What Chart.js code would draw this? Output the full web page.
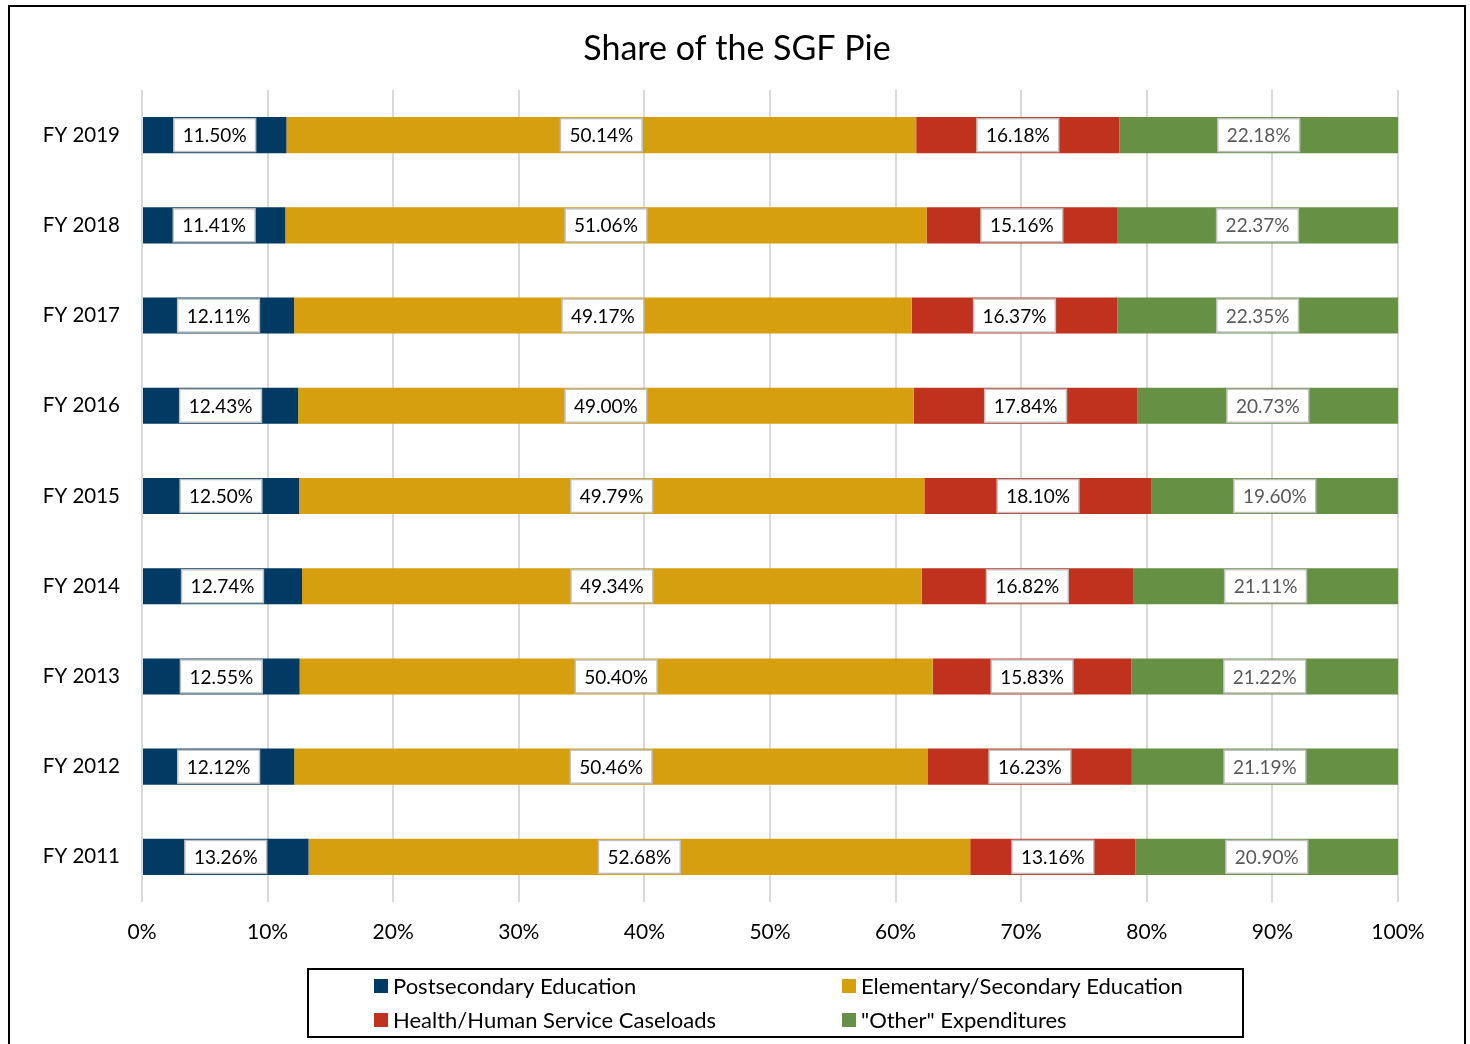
<!DOCTYPE html>
<html>
<head>
<meta charset="utf-8">
<script src="https://cdn.jsdelivr.net/npm/chart.js@4"></script>
<style>
  body { margin: 0; background: #fff; }
  #wrap { position: relative; width: 1470px; height: 1044px; }
</style>
</head>
<body>
<div id="wrap"><canvas id="sgfChart" width="1470" height="1044"></canvas></div>
<script>
// categories, top to bottom
const years = ['FY 2019', 'FY 2018', 'FY 2017', 'FY 2016', 'FY 2015', 'FY 2014', 'FY 2013', 'FY 2012', 'FY 2011']

// shares in percent
const postsecondary = [11.50, 11.41, 12.11, 12.43, 12.50, 12.74, 12.55, 12.12, 13.26]
const elementary = [50.14, 51.06, 49.17, 49.00, 49.79, 49.34, 50.40, 50.46, 52.68]
const healthCaseloads = [16.18, 15.16, 16.37, 17.84, 18.10, 16.82, 15.83, 16.23, 13.16]
const otherExpenditures = [22.18, 22.37, 22.35, 20.73, 19.60, 21.11, 21.22, 21.19, 20.90]

const seriesNames = ['Postsecondary Education', 'Elementary/Secondary Education', 'Health/Human Service Caseloads', '"Other" Expenditures']
const seriesColors = ['#013a63', '#d59f0f', '#c0321e', '#669144']
const labelColors = ['#000000', '#000000', '#000000', '#595959']

const chartTitle = 'Share of the SGF Pie'
const FONT = 'Lato, "Open Sans", sans-serif'

// frame round the whole chart + title centred on the page
const framePlugin = {
    id: 'frame',
    beforeDraw(chart) {
        const ctx = chart.ctx
        ctx.save()
        ctx.fillStyle = '#fff'
        ctx.fillRect(0, 0, chart.width, chart.height)
        ctx.strokeStyle = '#000'
        ctx.lineWidth = 2
        ctx.beginPath()
        ctx.moveTo(9, chart.height + 5)
        ctx.lineTo(9, 6)
        ctx.lineTo(1465, 6)
        ctx.lineTo(1465, chart.height + 5)
        ctx.stroke()

        ctx.fillStyle = '#000'
        ctx.font = '34px ' + FONT
        ctx.textAlign = 'center'
        ctx.textBaseline = 'middle'
        ctx.fillText(chartTitle, 737, 49)
        ctx.restore()
    }
}

// value boxes in the middle of every segment
const boxLabels = {
    id: 'boxLabels',
    afterDatasetsDraw(chart) {
        const ctx = chart.ctx
        ctx.save()
        ctx.font = '19px ' + FONT
        ctx.textAlign = 'center'
        ctx.textBaseline = 'middle'
        chart.data.datasets.forEach((ds, i) => {
            const meta = chart.getDatasetMeta(i)
            meta.data.forEach((bar, j) => {
                const text = ds.data[j].toFixed(2) + '%'
                const cx = (bar.x + bar.base) / 2
                const cy = bar.y
                const w = ctx.measureText(text).width + 18
                const h = 33
                ctx.fillStyle = '#fff'
                ctx.fillRect(cx - w / 2, cy - h / 2, w, h)
                ctx.strokeStyle = '#bfbfbf'
                ctx.lineWidth = 1.5
                ctx.strokeRect(cx - w / 2, cy - h / 2, w, h)
                ctx.fillStyle = labelColors[i]
                ctx.fillText(text, cx, cy + 1)
            })
        })
        ctx.restore()
    }
}

// two-column legend in a boxed area under the axis
const boxLegend = {
    id: 'boxLegend',
    afterDraw(chart) {
        const ctx = chart.ctx
        ctx.save()
        ctx.strokeStyle = '#000'
        ctx.lineWidth = 2
        ctx.strokeRect(308, 969, 935, 68)
        ctx.font = '22px ' + FONT
        ctx.textBaseline = 'middle'
        ctx.textAlign = 'left'
        const cols = [374, 842]
        const rows = [986, 1020]
        chart.data.datasets.forEach((ds, i) => {
            const x = cols[i % 2]
            const y = rows[Math.floor(i / 2)]
            ctx.fillStyle = ds.backgroundColor
            ctx.fillRect(x, y - 7, 14, 14)
            ctx.fillStyle = '#000'
            ctx.fillText(ds.label, x + 19, y + 1)
        })
        ctx.restore()
    }
}

const allSeries = [postsecondary, elementary, healthCaseloads, otherExpenditures]

new Chart(document.getElementById('sgfChart'), {
    type: 'bar',
    data: {
        labels: years,
        datasets: allSeries.map((values, i) => ({
            label: seriesNames[i],
            data: values,
            backgroundColor: seriesColors[i],
            borderWidth: 0,
            categoryPercentage: 0.4,
            barPercentage: 1.0
        }))
    },
    options: {
        indexAxis: 'y',
        responsive: false,
        animation: false,
        layout: {
            padding: {left: 0, right: 72, top: 90, bottom: 82}
        },
        plugins: {
            legend: {display: false},
            tooltip: {enabled: false},
            title: {display: false}
        },
        scales: {
            x: {
                stacked: true,
                min: 0,
                max: 100,
                ticks: {
                    stepSize: 10,
                    padding: 18,
                    color: '#000',
                    font: {family: FONT, size: 21},
                    callback: (value) => value + '%'
                },
                grid: {color: '#d9d9d9', lineWidth: 2, drawTicks: false},
                border: {display: false},
                afterFit: (scale) => { scale.height = 60 }
            },
            y: {
                stacked: true,
                ticks: {
                    padding: 14,
                    color: '#000',
                    font: {family: FONT, size: 20.5}
                },
                grid: {display: false},
                border: {display: false},
                afterFit: (scale) => { scale.width = 142 }
            }
        }
    },
    plugins: [framePlugin, boxLabels, boxLegend]
})
</script>
</body>
</html>
